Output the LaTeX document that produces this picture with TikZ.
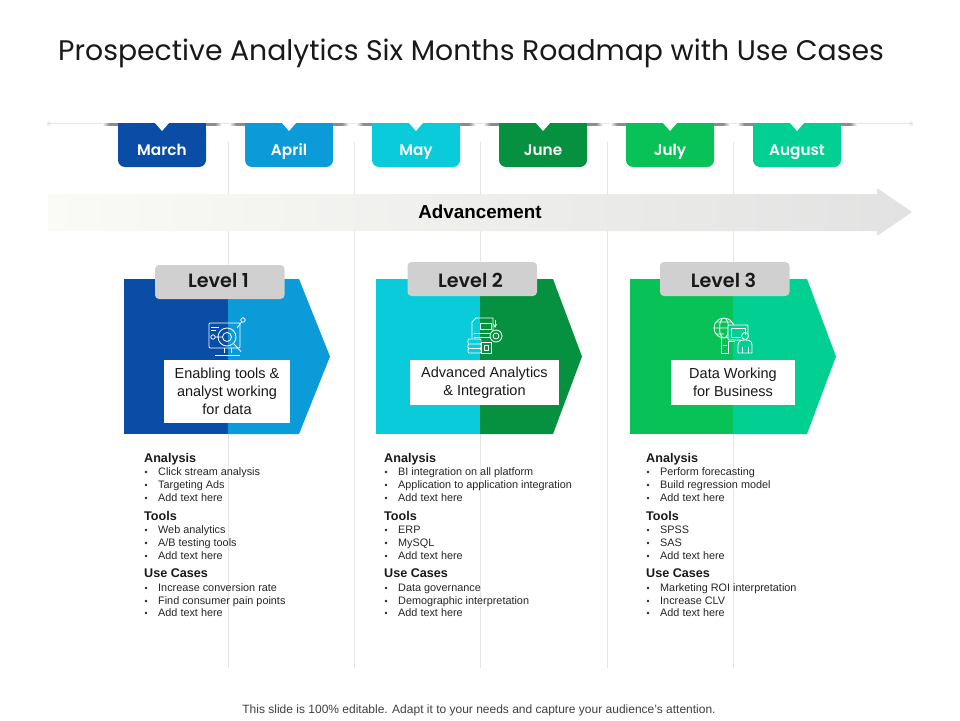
\documentclass[tikz,border=0pt]{standalone}
\usepackage{fontspec}
\setmainfont{Liberation Sans}
\newfontfamily\gothic{Poppins}
\newfontfamily\gothicsb[UprightFont={* SemiBold}]{Poppins}
\definecolor{cMar}{HTML}{0A4DA6}
\definecolor{cApr}{HTML}{0B9BD9}
\definecolor{cMay}{HTML}{09CBD9}
\definecolor{cJun}{HTML}{05913F}
\definecolor{cJul}{HTML}{08C257}
\definecolor{cAug}{HTML}{02CF92}
\definecolor{gridc}{HTML}{E6E6E6}
\definecolor{lvl}{HTML}{D0D0D0}
\definecolor{arrowL}{HTML}{FAFBF6}
\definecolor{arrowR}{HTML}{E2E2E2}
\pgfdeclarehorizontalshading{shadowband}{100bp}{color(0bp)=(white); color(25bp)=(white); color(28bp)=(black!45); color(72bp)=(black!45); color(75bp)=(white); color(100bp)=(white)}
\tikzset{
  gridline/.style={draw=gridc,line width=0.8pt},
  monthbox/.style={text=white,font=\gothicsb\fontsize{15.3}{18}\selectfont,inner sep=0pt,anchor=base},
  levelbox/.style={fill=lvl,rounded corners=4pt},
  leveltext/.style={text=black!90,font=\gothicsb\fontsize{19.2}{22}\selectfont,inner sep=0pt,anchor=base},
  whitebox/.style={fill=white,text=black!90,align=center,inner sep=0pt,font=\fontsize{14.5}{17.7}\selectfont},
  headtext/.style={anchor=base west,inner sep=0pt,text=black!90,font=\bfseries\fontsize{12.6}{14}\selectfont},
  itemtext/.style={anchor=base west,inner sep=0pt,text=black!85,font=\fontsize{10.85}{12}\selectfont},
  bullet/.style={circle,fill=black!85,inner sep=0pt,minimum size=2.6pt},
  iconline/.style={draw=white,line width=0.8pt,line join=round},
}
\newcommand{\monthtab}[4]{% name, left x, colour, label
  \shade[shading=shadowband] (#2-16,123) rectangle (#2+104,125.5);
  \fill[#3,rounded corners=7pt] (#2,123) -- (#2+88,123) -- (#2+88,167) -- (#2,167) -- cycle;
  \fill[#3] (#2,123) rectangle (#2+88,135);
  \fill[white] (#2+37,123) -- (#2+44,131) -- (#2+51,123) -- cycle;
  \node[monthbox] (#1) at (#2+44,155) {#4};
}
\newcommand{\levelblock}[9]{% name, left, split, shoulder, tip, colL, colR, boxleft, boxtop
  \fill[#6] (#2,279) rectangle (#3,434);
  \fill[#7] (#3,279) -- (#4,279) -- (#5,356.5) -- (#4,434) -- (#3,434) -- cycle;
  \fill[levelbox] (#8,#9) rectangle (#8+129.5,#9+34);
}
\newcommand{\textcol}[1]{% x of headings
  \node[headtext] (h1#1) at (#1,462.3) {Analysis};
  \node[headtext] (h2#1) at (#1,520.6) {Tools};
  \node[headtext] (h3#1) at (#1,577.8) {Use Cases};
}
\newcommand{\itemrow}[3]{% x of heading, y, text
  \node[bullet] at (#1+2,#2) {};
  \node[itemtext] at (#1+14,#2+3.7) {#3};
}
\newcommand{\itemthree}[5]{% x, y1, y3, text a, text b; third row is fixed
  \itemrow{#1}{#2}{#4}
  \itemrow{#1}{#2+13}{#5}
  \itemrow{#1}{#3}{Add text here}
}
\begin{document}
\begin{tikzpicture}[x=1pt,y=-1pt]
\useasboundingbox (0,0) rectangle (960,720);
\fill[white] (0,0) rectangle (960,720);
\node[anchor=base west,inner sep=0pt,text=black!90,font=\gothic\fontsize{28.3}{32}\selectfont] (title) at (58,60) {Prospective Analytics Six Months Roadmap with Use Cases};
% grid
\foreach \x in {228,354.5,480,607,733.5}
  \draw[gridline] (\x,142) -- (\x,668);
% top rule
\draw[draw=gridc,line width=1pt] (49,123.5) -- (911,123.5);
\fill[gridc] (49,123.5) circle (2pt) (911,123.5) circle (2pt);
% month tabs
\monthtab{mar}{118}{cMar}{March}
\monthtab{apr}{245}{cApr}{April}
\monthtab{may}{372}{cMay}{May}
\monthtab{jun}{499}{cJun}{June}
\monthtab{jul}{626}{cJul}{July}
\monthtab{aug}{753}{cAug}{August}
% arrow
\shade[left color=arrowL,right color=arrowR]
  (48,194) -- (877,194) -- (877,188) -- (912,212) -- (877,236) -- (877,231) -- (48,231) -- cycle;
\node[anchor=base,inner sep=0pt,font=\bfseries\fontsize{18.8}{20}\selectfont,text=black] (adv) at (480,218.5) {Advancement};
% level blocks
\levelblock{l1}{124}{228}{299}{330}{cMar}{cApr}{155}{265}
\levelblock{l2}{376}{480}{553}{582}{cMay}{cJun}{407.5}{262}
\levelblock{l3}{630}{733}{807}{836}{cJul}{cAug}{660}{262}
\node[leveltext] (lv1) at (218.5,287) {Level 1};
\node[leveltext] (lv2) at (470.5,287) {Level 2};
\node[leveltext] (lv3) at (723.5,287) {Level 3};
% white boxes
\node[whitebox,minimum width=126pt,minimum height=63pt] (b1) at (227,391.5) {Enabling tools \&\\analyst working~\\for data};
\node[whitebox,minimum width=149pt,minimum height=45pt] (b2) at (484.5,382.5) {Advanced Analytics\\\& Integration};
\node[whitebox,minimum width=124pt,minimum height=45pt] (b3) at (733,382.5) {Data Working\\for Business};
% icon 1
\draw[iconline,rounded corners=1pt] (209,323) rectangle (240,348);
\draw[iconline] (211,327) -- (219,327) (211,330) -- (216,330);
\draw[iconline] (227,337) circle (9) (227,337) circle (4.5) (213,337) circle (2.2) (215.2,337) -- (222.5,337);
\draw[iconline] (233.5,343.5) -- (241,351.5);
\draw[iconline] (243,320) circle (2.2) (241.5,322) -- (237,328);
\draw[iconline] (224,348) -- (224,353) (231,348) -- (231,353) (215,355) -- (240,355);
% icon 2
\draw[iconline] (476,318) -- (493,318) -- (493,331) (476,318) -- (472,322) -- (472,338);
\draw[iconline] (480,323) rectangle (491,329);
\draw[iconline] (474,333) -- (490,333) (474,337) -- (490,337);
\draw[iconline] (496,336) circle (3) (496,336) circle (6);
\draw[iconline,rounded corners=1pt] (468,339) rectangle (481,344) (468,344) rectangle (481,348.5) (468,348.5) rectangle (481,353);
\draw[iconline] (481,342) rectangle (491,353) (484,345) rectangle (488,350);
\draw[iconline,->,>=stealth] (495,320) -- (495,328);
% icon 3
\draw[iconline] (724,328) circle (10) (724,328) ellipse (4.5 and 10) (714,328) -- (734,328) (716,322) -- (732,322) (716,334) -- (724,334);
\fill[cAug] (728,325) rectangle (748,340);
\draw[iconline,rounded corners=1pt] (728,325) rectangle (748,340);
\draw[iconline] (731,328) rectangle (745,337);
\draw[iconline] (721,338) -- (721,353) -- (728,353) -- (728,341) -- (735,341) (723,345) -- (727,345);
\fill[cAug] (741,335) rectangle (753,353);
\draw[iconline] (745,336) circle (3.5);
\draw[iconline] (738,353) -- (738,345) .. controls (738,341) and (741,340) .. (745,340) .. controls (749,340) and (752,341) .. (752,345) -- (752,353) -- cycle;
\draw[iconline] (742,353) -- (742,347) (748,353) -- (748,347);
% text columns
\textcol{144}
\itemthree{144}{472}{498}{Click stream analysis}{Targeting Ads}
\itemthree{144}{530}{556}{Web analytics}{A/B testing tools}
\itemthree{144}{588}{613}{Increase conversion rate}{Find consumer pain points}
\textcol{384}
\itemthree{384}{472}{498}{BI integration on all platform}{Application to application integration}
\itemthree{384}{530}{556}{ERP}{MySQL}
\itemthree{384}{588}{613}{Data governance}{Demographic interpretation}
\textcol{646}
\itemthree{646}{472}{498}{Perform forecasting}{Build regression model}
\itemthree{646}{530}{556}{SPSS}{SAS}
\itemthree{646}{588}{613}{Marketing ROI interpretation}{Increase CLV}
% footer
\node[anchor=base,inner sep=0pt,text=black!75,font=\fontsize{12}{14}\selectfont] (foot) at (479,713) {This slide is 100\% editable. Adapt it to your needs and capture your audience's attention.};
\end{tikzpicture}
\end{document}
